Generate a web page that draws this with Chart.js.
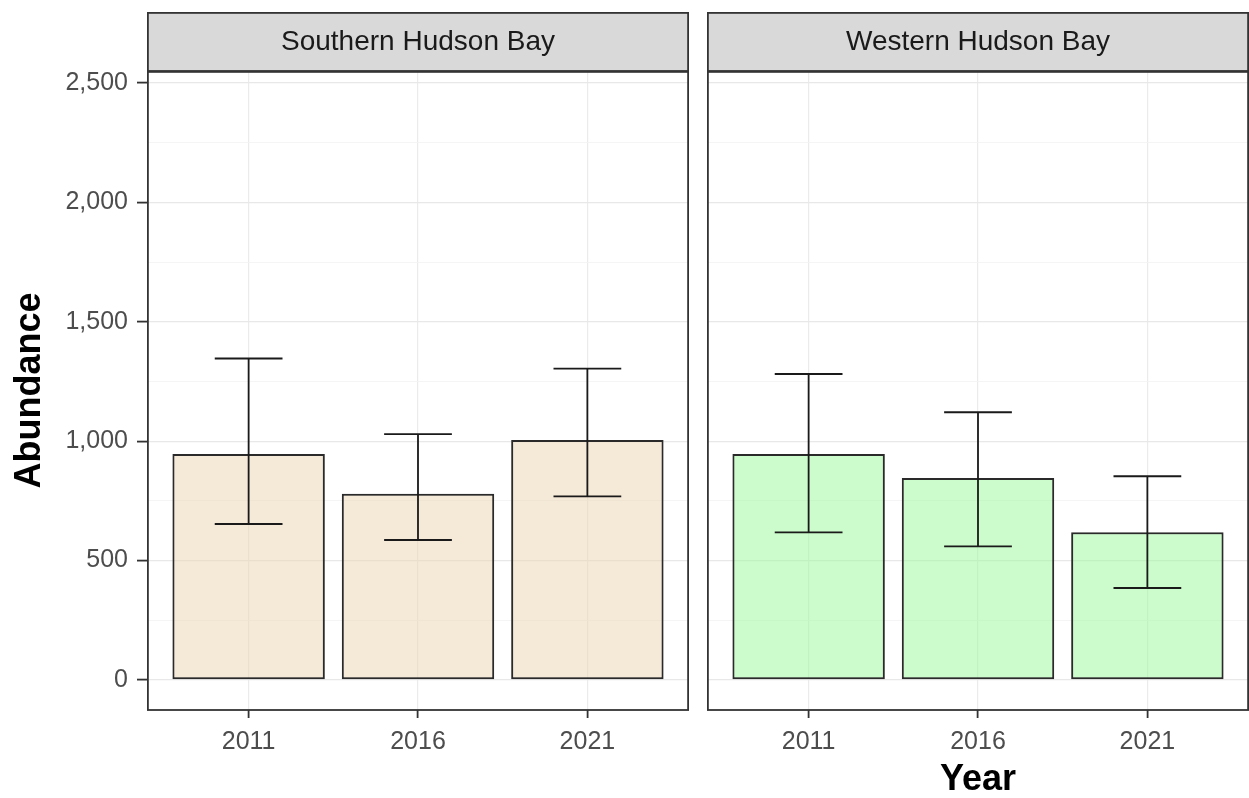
<!DOCTYPE html>
<html>
<head>
<meta charset="utf-8">
<script src="https://cdn.jsdelivr.net/npm/chart.js@4.4.1/dist/chart.umd.min.js"></script>
<style>
  body { margin: 0; background: #fff; }
  #wrap { position: relative; width: 1249px; height: 798px; }
  canvas { position: absolute; top: 0; }
</style>
</head>
<body>
<div id="wrap">
  <canvas id="south" width="700" height="798" style="left:0"></canvas>
  <canvas id="west" width="549" height="798" style="left:700px"></canvas>
</div>
<script>
// data
const years = [2011, 2016, 2021];
const panelTitles = ['Southern Hudson Bay', 'Western Hudson Bay'];

const southMean = [946, 780, 1005];
const southLow = [653, 586, 769];
const southHigh = [1346, 1029, 1304];

const westMean = [946, 846, 618];
const westLow = [618, 559, 385];
const westHigh = [1281, 1121, 853];

const yLabels = [0, 500, 1000, 1500, 2000, 2500];
const yGrid = [0, 250, 500, 750, 1000, 1250, 1500, 1750, 2000, 2250, 2500];

const FONT = "'Liberation Sans', Arial, sans-serif";

// error bars + panel frame + facet strip
const facetPlugin = {
  id: 'facet',
  afterDatasetsDraw(chart, args, opts) {
    const ctx = chart.ctx;
    const x = chart.scales.x, y = chart.scales.y;
    ctx.save();
    ctx.strokeStyle = '#1a1a1a';
    ctx.lineWidth = 1.8;
    opts.low.forEach((lo, i) => {
      const hi = opts.high[i];
      const xc = x.getPixelForValue(years[i]);
      const x0 = x.getPixelForValue(years[i] - 1);
      const x1 = x.getPixelForValue(years[i] + 1);
      const yl = y.getPixelForValue(lo), yh = y.getPixelForValue(hi);
      ctx.beginPath();
      ctx.moveTo(xc, yl); ctx.lineTo(xc, yh);
      ctx.moveTo(x0, yl); ctx.lineTo(x1, yl);
      ctx.moveTo(x0, yh); ctx.lineTo(x1, yh);
      ctx.stroke();
    });
    ctx.restore();
  },
  afterDraw(chart, args, opts) {
    const ctx = chart.ctx;
    const a = chart.chartArea;
    ctx.save();
    // strip
    ctx.fillStyle = '#d9d9d9';
    ctx.fillRect(a.left, 12, a.right - a.left, a.top - 12);
    ctx.strokeStyle = '#333';
    ctx.lineWidth = 1.8;
    ctx.strokeRect(a.left + 0.9, 12.9, a.right - a.left - 1.8, a.top - 12);
    ctx.fillStyle = '#1a1a1a';
    ctx.font = '28px ' + FONT;
    ctx.textAlign = 'center';
    ctx.textBaseline = 'middle';
    ctx.fillText(opts.title, (a.left + a.right) / 2, (12 + a.top) / 2 + 1);
    // panel border
    ctx.strokeRect(a.left + 0.9, a.top, a.right - a.left - 1.8, a.bottom - a.top);
    ctx.restore();
  }
};

function makeChart(id, mean, low, high, title, fill, first) {
  return new Chart(document.getElementById(id), {
    type: 'bar',
    data: {
      datasets: [{
        data: years.map((yr, i) => ({ x: yr, y: mean[i] })),
        backgroundColor: fill,
        borderColor: '#2a2a2a',
        borderWidth: 2,
        borderSkipped: false,
        barPercentage: 0.9,
        categoryPercentage: 1
      }]
    },
    options: {
      responsive: false,
      animation: false,
      devicePixelRatio: 1,
      layout: { padding: { top: 71, left: first ? 0 : 7, right: first ? 11 : 0, bottom: 0 } },
      plugins: {
        legend: { display: false },
        tooltip: { enabled: false },
        facet: { title: title, low: low, high: high }
      },
      scales: {
        x: {
          type: 'linear',
          min: 2008,
          max: 2024,
          offset: false,
          afterBuildTicks: s => { s.ticks = years.map(v => ({ value: v })); },
          afterFit: s => { s.height = 88; },
          ticks: {
            color: '#4d4d4d',
            font: { family: FONT, size: 25 },
            padding: 9,
            callback: v => String(v)
          },
          grid: {
            offset: false,
            color: '#ebebeb',
            lineWidth: 1.2,
            tickLength: 8,
            tickColor: '#333',
            tickWidth: 1.8
          },
          border: { display: false },
          title: {
            display: !first,
            text: 'Year',
            color: '#000',
            font: { family: FONT, size: 36, weight: 'bold', lineHeight: 1 },
            padding: { top: 0, bottom: 0 }
          }
        },
        y: {
          min: -126,
          max: 2550,
          afterBuildTicks: s => { s.ticks = yGrid.map(v => ({ value: v })); },
          afterFit: s => { s.width = first ? 147 : 0; },
          ticks: {
            display: first,
            color: '#4d4d4d',
            font: { family: FONT, size: 25 },
            padding: 9,
            callback: v => yLabels.includes(v) ? v.toLocaleString('en-US') : ''
          },
          grid: {
            drawTicks: first,
            tickLength: 10,
            color: c => yLabels.includes(c.tick.value) ? '#e8e8e8' : '#f3f3f3',
            lineWidth: c => yLabels.includes(c.tick.value) ? 1.2 : 0.8,
            tickColor: c => yLabels.includes(c.tick.value) ? '#333' : 'rgba(0,0,0,0)',
            tickWidth: 1.8
          },
          border: { display: false },
          title: {
            display: first,
            text: 'Abundance',
            color: '#000',
            font: { family: FONT, size: 36, weight: 'bold', lineHeight: 1 },
            padding: { top: 12, bottom: 0 }
          }
        }
      }
    },
    plugins: [facetPlugin]
  });
}

makeChart('south', southMean, southLow, southHigh, panelTitles[0], 'rgba(235,212,175,0.5)', true);
makeChart('west', westMean, westLow, westHigh, panelTitles[1], 'rgba(153,249,151,0.5)', false);
</script>
</body>
</html>
